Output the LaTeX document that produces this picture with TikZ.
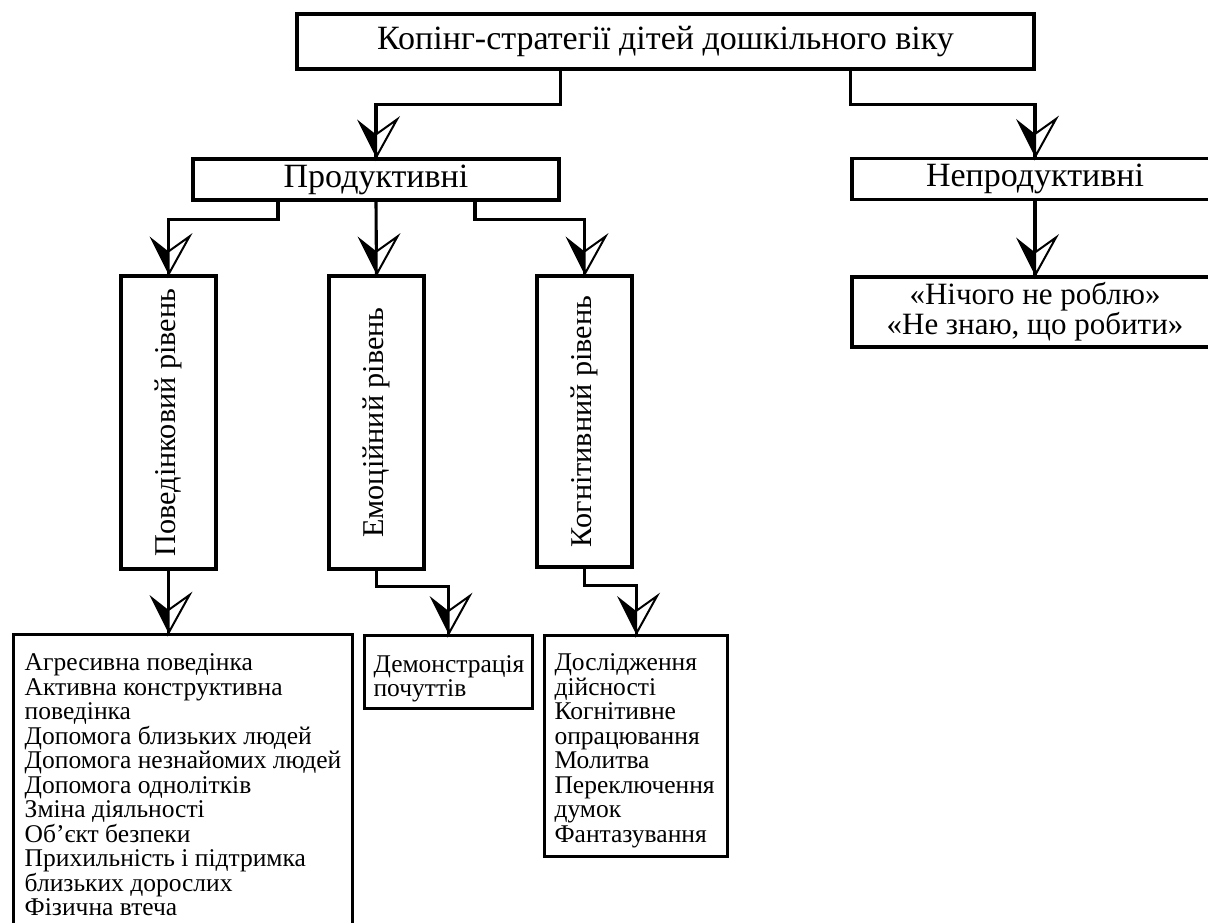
\documentclass[tikz,border=0pt]{standalone}
\usepackage{fontspec}
\setmainfont{Liberation Serif}
\begin{document}
\begin{tikzpicture}[x=1pt,y=-1pt,
  box/.style={draw,line width=3.1pt,inner sep=0pt,rectangle},
  head/.style={font=\fontsize{34}{36}\selectfont},
  vhead/.style={font=\fontsize{30.2}{32}\selectfont},
  list/.style={font=\fontsize{25.5}{24.5}\selectfont,align=left},
  conn/.style={line width=3.1pt,line join=miter},
  harrow/.pic={
    \fill[black] (0,0) -- (-19,-38) -- (0,-23) -- cycle;
    \draw[line width=2pt,fill=white,line join=miter] (0,0) -- (21,-38) -- (0,-23) -- cycle;
  }]
\useasboundingbox (0,0) rectangle (1208,922);
\begin{scope}
\clip (0,0) rectangle (1208,922);
% boxes
\node[box,head,minimum width=737pt,minimum height=55pt] (top) at (665.5,41.5) {Копінг-стратегії дітей дошкільного віку};
\node[box,head,minimum width=366pt,minimum height=41pt] (prod) at (376,179.5) {Продуктивні};
\node[box,head,minimum width=366pt,minimum height=41pt] (neprod) at (1035,179) {Непродуктивні};
\node[box,vhead,minimum width=293pt,minimum height=95pt,rotate=90] (beh) at (168.5,422.5) {Поведінковий рівень};
\node[box,vhead,minimum width=293pt,minimum height=95pt,rotate=90] (emo) at (376.5,422.5) {Емоційний рівень};
\node[box,vhead,minimum width=291pt,minimum height=95pt,rotate=90] (cog) at (584.5,421.5) {Когнітивний рівень};
\node[box,font=\fontsize{31}{26}\selectfont,align=center,minimum width=366pt,minimum height=70pt] (nothing) at (1035,312) {«Нічого не роблю»\\«Не знаю, що робити»};
\node[box,list,anchor=north west,minimum width=339pt,minimum height=296pt] (behlist) at (12,633) {\rule{0pt}{22pt}Агресивна поведінка\\Активна конструктивна\\поведінка\\Допомога близьких людей\\Допомога незнайомих людей\\Допомога однолітків\\Зміна діяльності\\Об’єкт безпеки\\Прихильність і підтримка\\близьких дорослих\\Фізична втеча};
\node[box,list,anchor=north west,minimum width=168pt,minimum height=73pt,text width=150pt,inner xsep=9pt] (demo) at (363,634) {\rule{0pt}{30pt}Демонстрація\\почуттів};
\node[box,list,anchor=north west,minimum width=183pt,minimum height=221pt,text width=163pt,inner xsep=10pt] (coglist) at (543,634) {\rule{0pt}{26pt}Дослідження\\дійсності\\Когнітивне\\опрацювання\\Молитва\\Переключення\\думок\\Фантазування};
% connectors
\draw[conn] (top.south -| prod.east) -- ++(0,34) -| (prod.north);
\pic at (prod.north) {harrow};
\draw[conn] (top.south -| neprod.west) -- ++(0,34) -| (neprod.north);
\pic at (neprod.north) {harrow};
\draw[conn] ([xshift=-98pt]prod.south) -- ++(0,18) -| (beh.east);
\pic at (beh.east) {harrow};
\draw[conn] (prod.south) -- (emo.east);
\pic at (emo.east) {harrow};
\draw[conn] ([xshift=99pt]prod.south) -- ++(0,18) -| (cog.east);
\pic at (cog.east) {harrow};
\draw[conn] (beh.west) -- (beh.west |- behlist.north);
\pic at (beh.west |- behlist.north) {harrow};
\draw[conn] (emo.west) -- ++(0,16) -| (demo.north);
\pic at (demo.north) {harrow};
\draw[conn] (cog.west) -- ++(0,17) -| (coglist.north);
\pic at (coglist.north) {harrow};
\draw[conn] (neprod.south) -- (nothing.north);
\pic at (nothing.north) {harrow};
\end{scope}
\end{tikzpicture}
\end{document}
